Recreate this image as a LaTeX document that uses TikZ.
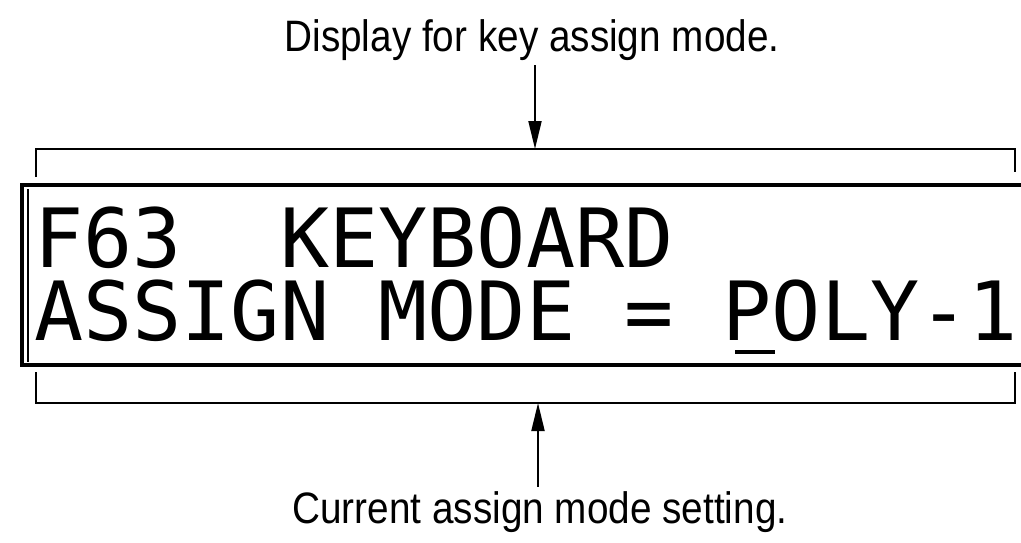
\documentclass[tikz,border=0pt]{standalone}
\usepackage{graphicx}
\usepackage{fontspec}
\setmainfont{Liberation Sans}
\newfontfamily\lcdfont{DejaVu Sans Mono}
\usetikzlibrary{arrows.meta}
\begin{document}
\begin{tikzpicture}[x=1pt,y=-1pt,
  lbl/.style={font=\fontsize{44}{50}\selectfont, inner sep=4pt},
  lcd/.style={font=\lcdfont\fontsize{81.7}{90}\selectfont, inner sep=0pt, anchor=base west, text height=58pt, text depth=0pt},
  frame/.style={line width=4pt},
  inner/.style={line width=1.5pt},
  bracket/.style={line width=1.6pt},
  arr/.style={line width=2pt, -{Triangle[length=28pt,width=13pt]}}]
\useasboundingbox (0,0) rectangle (1021,543);
% captions
\node[lbl, anchor=base] (ttop) at (532,52) {\scalebox{0.88}[1]{Display for key assign mode.}};
\node[lbl, anchor=base] (tbot) at (540,523) {\scalebox{0.88}[1]{Current assign mode setting.}};
% brackets
\coordinate (tl) at (36,177);
\coordinate (tr) at (1015,172);
\coordinate (bl) at (36,372);
\coordinate (br) at (1015,372);
\coordinate (bt) at (535,149);
\coordinate (bb) at (538,403);
\draw[bracket] (tl) |- (bt) -| (tr);
\draw[bracket] (bl) |- (bb) -| (br);
% display frame
\coordinate (f1) at (1021,185);
\coordinate (f2) at (22,185);
\coordinate (f3) at (22,365);
\coordinate (f4) at (1021,365);
\draw[frame] (f1) -- (f2) -- (f3) -- (f4);
\coordinate (i1) at (28,189);
\coordinate (i2) at (28,362);
\draw[inner] (i1) -- (i2);
% LCD text
\node[lcd] (row1) at (34,267) {F63\ \ KEYBOARD};
\node[lcd] (row2) at (34,340) {ASSIGN MODE = POLY-1};
% cursor
\coordinate (c1) at (735,352);
\coordinate (c2) at (775,352);
\draw[line width=3.5pt] (c1) -- (c2);
% arrows
\draw[arr] (ttop.south -| bt) -- (bt);
\draw[arr] (tbot.north -| bb) -- (bb);
\end{tikzpicture}
\end{document}
